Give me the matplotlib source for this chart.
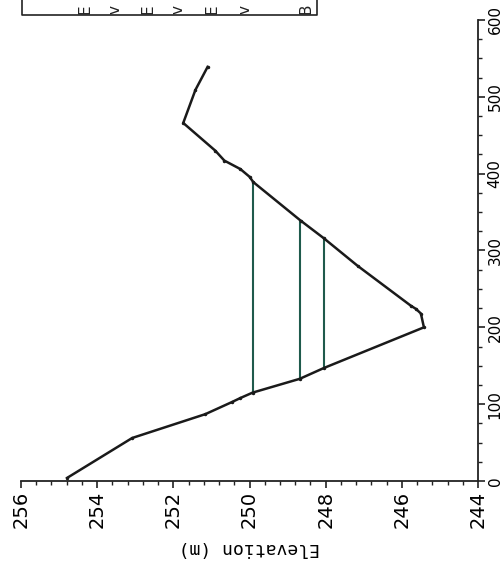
import numpy as np
import matplotlib
matplotlib.use('Agg')
import matplotlib.pyplot as plt
from matplotlib.ticker import MultipleLocator
from matplotlib.lines import Line2D

# cross-section profile (distance along section, bed elevation)
dist = [4, 56, 87, 103, 108, 115, 133, 147, 200, 218, 224, 228, 280, 316,
        339, 389, 396, 406, 417, 430, 466, 509, 539]
elev = [254.79, 253.08, 251.16, 250.45, 250.24, 249.92, 248.68, 248.05, 245.42,
        245.5, 245.63, 245.76, 247.16, 248.05, 248.66, 249.9, 250.0, 250.24,
        250.66, 250.9, 251.74, 251.42, 251.1]

# water levels drawn across the channel
wl_elev = [249.92, 248.68, 248.05]
wl_left = [115, 133, 147]
wl_right = [389, 339, 316]

elev_ticks = [256, 254, 252, 250, 248, 246, 244]
dist_ticks = [0, 100, 200, 300, 400, 500, 600]

W, H = 502, 564
fig = plt.figure(figsize=(W / 100, H / 100), dpi=100)
# the page is turned a quarter: elevation runs along the bottom, distance up the right side
ax = fig.add_axes([21 / W, 1 - 481 / H, (478 - 21) / W, (481 - 20) / H])

ax.plot(elev, dist, color='#1a1a1a', lw=1.8, marker='.', ms=3, zorder=3)
for e, d0, d1 in zip(wl_elev, wl_left, wl_right):
    ax.plot([e, e], [d0, d1], color='#1f5a4c', lw=1.5, zorder=2)

ax.set_xlim(256, 244)
ax.set_ylim(0, 600)
ax.spines['top'].set_visible(False)
ax.spines['left'].set_visible(False)
for s in ('bottom', 'right'):
    ax.spines[s].set_linewidth(1.3)
    ax.spines[s].set_color('#222222')

ax.set_xticks(elev_ticks)
ax.set_xticklabels([str(t) for t in elev_ticks], rotation=90, fontsize=14,
                   va='top', ha='center')
ax.xaxis.set_minor_locator(MultipleLocator(0.4))

ax.yaxis.tick_right()
ax.set_yticks(dist_ticks)
ax.set_yticklabels([str(t) for t in dist_ticks], rotation=90, fontsize=11,
                   va='center', ha='left')
ax.yaxis.set_minor_locator(MultipleLocator(25))

ax.tick_params(which='major', length=5, width=1.2, color='#222222', pad=2)
ax.tick_params(which='minor', length=3, width=1.0, color='#222222')

ax.set_xlabel('Elevation (m)', rotation=180, fontsize=13,
              family='DejaVu Sans Mono', labelpad=8)

# bottom edge of a legend box cut off by the top of the page
box = [(22, 0), (22, 15), (317, 15), (317, 0)]
fig.add_artist(Line2D([x / W for x, y in box], [1 - y / H for x, y in box],
                      transform=fig.transFigure, color='#222222', lw=1.2))
for x, ch in [(85, 'E'), (115, 'v'), (148, 'E'), (178, 'v'), (212, 'E'),
              (245, 'v'), (306, 'B')]:
    fig.text(x / W, 1 - 14 / H, ch, rotation=90, fontsize=11,
             ha='center', va='bottom', color='#222222')

fig.savefig('out.png', dpi=100)
